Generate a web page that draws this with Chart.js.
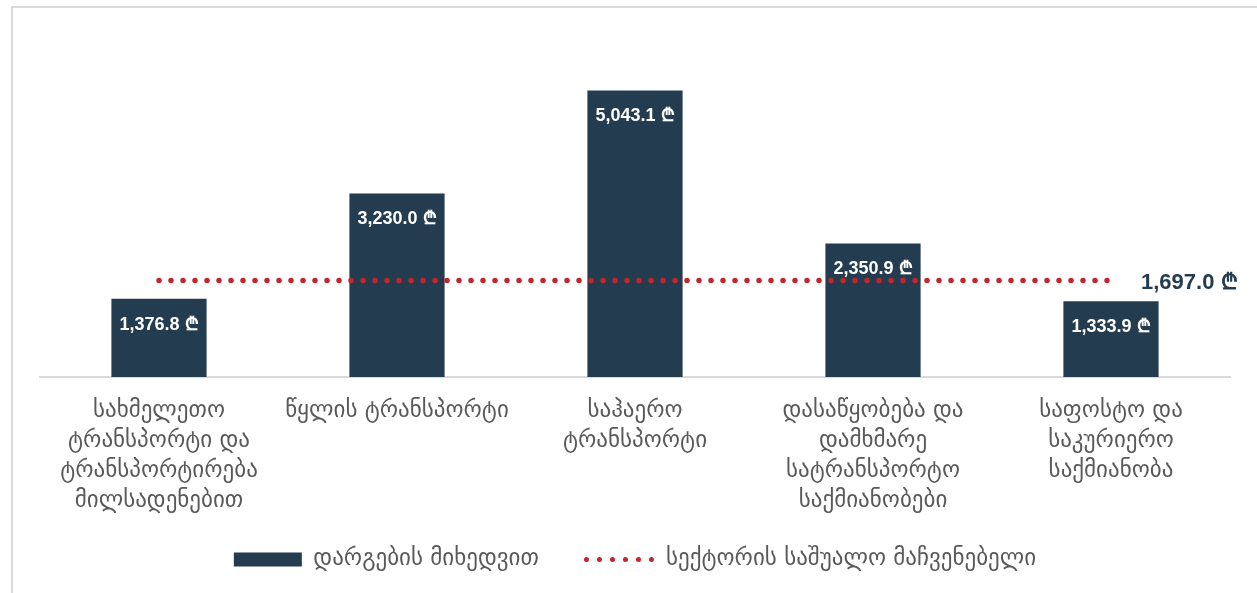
<!DOCTYPE html>
<html lang="ka">
<head>
    <meta charset="UTF-8">
    <title>დარგების მიხედვით</title>
    <script src="https://cdn.jsdelivr.net/npm/chart.js@4.4.1/dist/chart.umd.min.js"></script>
    <style>
        body {
            margin: 0;
            padding: 0;
            background-color: #fff;
            overflow: hidden;
        }

        .wrap {
            position: relative;
            width: 1257px;
            height: 593px;
        }

        .frame {
            position: absolute;
            left: 11px;
            top: 6px;
            width: 1400px;
            height: 700px;
            border-left: 2px solid #d9d9d9;
            border-top: 2px solid #d9d9d9;
            pointer-events: none;
        }
    </style>
</head>
<body>
    <div class="wrap">
        <canvas id="chart"></canvas>
        <div class="frame"></div>
    </div>
    <script>
        // კატეგორიები (მრავალხაზიანი ეტიკეტები)
        const categories = [
            ['სახმელეთო', 'ტრანსპორტი და', 'ტრანსპორტირება', 'მილსადენებით'],
            ['წყლის ტრანსპორტი'],
            ['საჰაერო', 'ტრანსპორტი'],
            ['დასაწყობება და', 'დამხმარე', 'სატრანსპორტო', 'საქმიანობები'],
            ['საფოსტო და', 'საკურიერო', 'საქმიანობა']
        ];
        const sectorValues = [1376.8, 3230.0, 5043.1, 2350.9, 1333.9];
        const averageValues = [1697.0, 1697.0, 1697.0, 1697.0, 1697.0];
        const seriesNames = ['დარგების მიხედვით', 'სექტორის საშუალო მაჩვენებელი'];

        const barColor = '#243c4f';
        const dotColor = '#c0272d';
        const textGray = '#595959';
        const georgianFont = '"DejaVu Sans", sans-serif';

        function fmt(v) {
            return v.toLocaleString('en-US', { minimumFractionDigits: 1, maximumFractionDigits: 1 }) + ' ₾';
        }

        // ბარების შიგნით მნიშვნელობები და საშუალოს ეტიკეტი ხაზის ბოლოს
        const valueLabels = {
            id: 'valueLabels',
            afterDatasetsDraw(chart) {
                const ctx = chart.ctx;
                ctx.save();
                const bars = chart.getDatasetMeta(0).data;
                ctx.fillStyle = '#fff';
                ctx.font = 'bold 18px "Liberation Sans", Arial, sans-serif';
                ctx.textAlign = 'center';
                ctx.textBaseline = 'middle';
                bars.forEach((bar, i) => {
                    ctx.fillText(fmt(sectorValues[i]), bar.x, bar.y + 26);
                });

                const pts = chart.getDatasetMeta(1).data;
                const last = pts[pts.length - 1];
                ctx.fillStyle = barColor;
                ctx.font = 'bold 22px "Liberation Sans", Arial, sans-serif';
                ctx.textAlign = 'left';
                ctx.fillText(fmt(averageValues[averageValues.length - 1]), last.x + 30, last.y + 2);
                ctx.restore();
            }
        };

        const ctx = document.getElementById('chart').getContext('2d');
        const chart = new Chart(ctx, {
            type: 'bar',
            data: {
                labels: categories,
                datasets: [{
                    label: seriesNames[0],
                    data: sectorValues,
                    backgroundColor: barColor,
                    borderWidth: 0,
                    barPercentage: 0.4,
                    categoryPercentage: 1.0,
                    pointStyle: 'rect',
                    order: 2
                }, {
                    type: 'line',
                    label: seriesNames[1],
                    data: averageValues,
                    borderColor: dotColor,
                    backgroundColor: dotColor,
                    borderWidth: 5.5,
                    borderDash: [0, 12],
                    borderCapStyle: 'round',
                    pointRadius: 0,
                    pointHoverRadius: 0,
                    pointStyle: 'line',
                    fill: false,
                    order: 1
                }]
            },
            options: {
                responsive: true,
                maintainAspectRatio: false,
                animation: false,
                events: [],
                layout: {
                    padding: { top: 36, left: 40, right: 27, bottom: 12 }
                },
                scales: {
                    x: {
                        grid: { display: false, drawTicks: false },
                        border: { color: '#d9d9d9', width: 2 },
                        ticks: {
                            color: textGray,
                            padding: 19,
                            maxRotation: 0,
                            autoSkip: false,
                            font: { family: georgianFont, size: 23, lineHeight: 30 / 23 }
                        },
                        afterFit(scale) {
                            scale.height = 138;
                        }
                    },
                    y: {
                        display: false,
                        min: 0,
                        max: 6000
                    }
                },
                plugins: {
                    tooltip: { enabled: false },
                    legend: {
                        position: 'bottom',
                        labels: {
                            color: textGray,
                            padding: 33,
                            usePointStyle: true,
                            pointStyleWidth: 68,
                            boxHeight: 14,
                            font: { family: georgianFont, size: 23 },
                            sort: (a, b) => a.datasetIndex - b.datasetIndex,
                            generateLabels(chart) {
                                const items = Chart.defaults.plugins.legend.labels.generateLabels(chart);
                                items.forEach(it => {
                                    if (it.datasetIndex === 0) {
                                        it.text = it.text + '  ';
                                    }
                                    if (it.datasetIndex === 1) {
                                        it.lineDash = [0, 13];
                                        it.lineWidth = 5;
                                        it.lineCap = 'round';
                                    }
                                });
                                return items;
                            }
                        }
                    }
                }
            },
            plugins: [valueLabels]
        });
    </script>
</body>
</html>
